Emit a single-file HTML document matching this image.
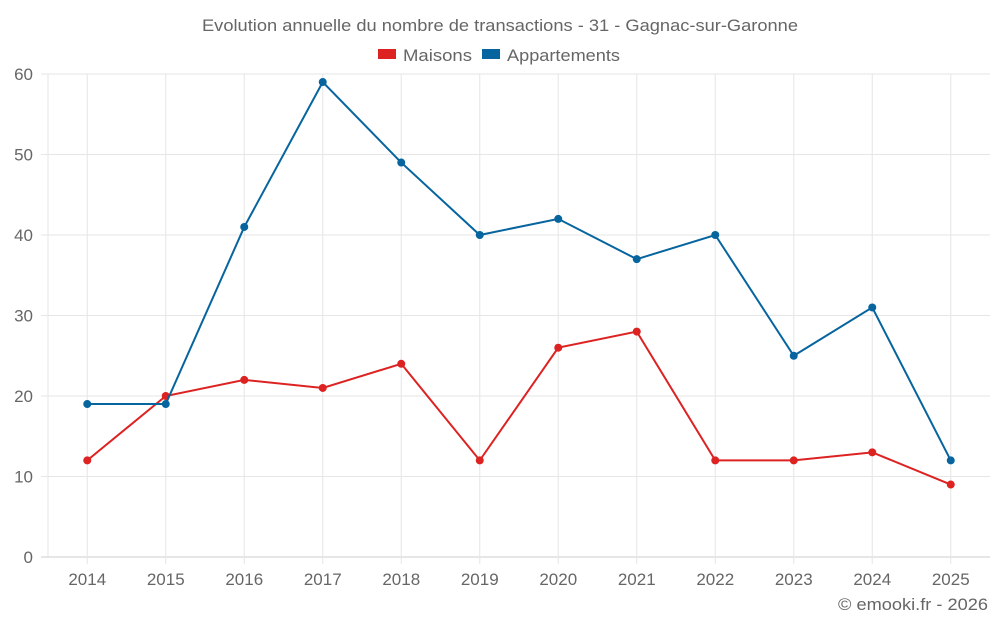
<!DOCTYPE html>
<html><head><meta charset="utf-8"><style>
body{margin:0;background:#fff;font-family:"Liberation Sans",sans-serif;}
svg text{font-family:"Liberation Sans",sans-serif;fill:#666;}
</style></head><body>
<svg id="chart" width="1000" height="625">
<text x="202" y="31" textLength="596" lengthAdjust="spacingAndGlyphs" font-size="17">Evolution annuelle du nombre de transactions - 31 - Gagnac-sur-Garonne</text>
<g>
<g><rect x="378" y="49" width="18" height="10" fill="#dd2222"/><text x="403" y="61" font-size="17" textLength="69" lengthAdjust="spacingAndGlyphs">Maisons</text></g>
<g><rect x="482" y="49" width="18" height="10" fill="#06649e"/><text x="507" y="61" font-size="17" textLength="113" lengthAdjust="spacingAndGlyphs">Appartements</text></g>
</g>
<g id="grid"></g><g id="axes"></g><g id="series"></g>
<text x="838" y="610" textLength="150" lengthAdjust="spacingAndGlyphs" font-size="17">© emooki.fr - 2026</text>
</svg>
<script>
const years=["2014","2015","2016","2017","2018","2019","2020","2021","2022","2023","2024","2025"];
const maisons=[12,20,22,21,24,12,26,28,12,12,13,9];
const appartements=[19,19,41,59,49,40,42,37,40,25,31,12];
const yTicks=[0,10,20,30,40,50,60];
const NS="http://www.w3.org/2000/svg";
const L=48,R=990,T=74,B=557,band=(R-L)/years.length;
const x=i=>L+band*(i+0.5), y=v=>B-(v/60)*(B-T);
function mk(t,a,p){const e=document.createElementNS(NS,t);for(const k in a)e.setAttribute(k,a[k]);p.appendChild(e);return e;}
const g=document.getElementById('grid'),ax=document.getElementById('axes'),s=document.getElementById('series');
mk('line',{x1:L,x2:L,y1:T,y2:B,stroke:'#e6e6e6'},g);
yTicks.forEach(v=>{
 const l=mk('line',{x1:L-7,x2:R,y1:y(v),y2:y(v),stroke:v===0?'#ccc':'#e6e6e6'},g);
 
 
 const t=mk('text',{x:33,y:y(v)+6,'text-anchor':'end','font-size':17},ax);t.textContent=v;
 
 
});
years.forEach((yr,i)=>{
 const l=mk('line',{x1:x(i),x2:x(i),y1:T,y2:B+7,stroke:'#e6e6e6'},g);
 
 
 const t=mk('text',{x:x(i),y:585,'text-anchor':'middle','font-size':17},ax);t.textContent=yr;
 
 
});
function draw(data,color,name){
 const p=mk('polyline',{points:data.map((v,i)=>x(i)+','+y(v)).join(' '),fill:'none',stroke:color,'stroke-width':2},s);
 
 
 data.forEach((v,i)=>{
  const c=mk('circle',{cx:x(i),cy:y(v),r:4,fill:color},s);
  
  
 });
}
draw(maisons,'#dd2222','maisons');
draw(appartements,'#06649e','appartements');
</script>
</body></html>
